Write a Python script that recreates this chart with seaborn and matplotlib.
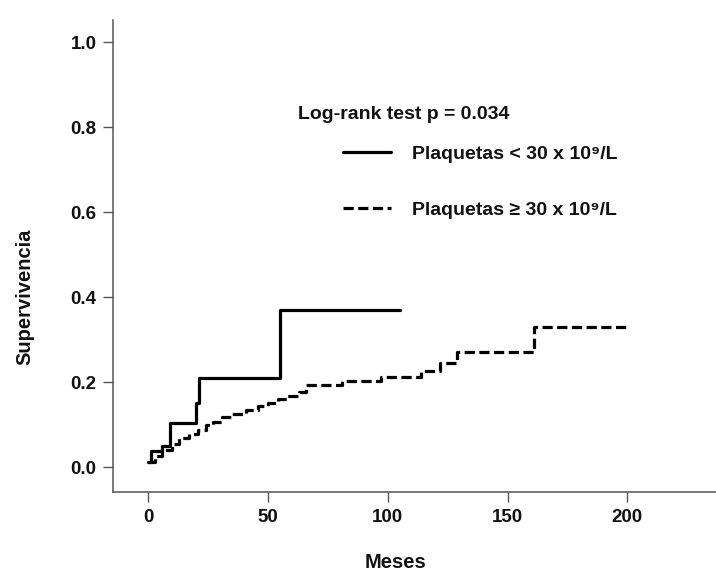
import matplotlib
matplotlib.use("Agg")
import matplotlib.pyplot as plt
import seaborn as sns
import pandas as pd
from matplotlib.lines import Line2D

# ---- data ----
low_time = [0, 1, 6, 9, 20, 21.4, 55, 105]
low_value = [0.012, 0.038, 0.05, 0.103, 0.15, 0.209, 0.369, 0.369]

high_time = [0, 3, 6, 10, 13, 17, 21, 24, 27, 31, 35, 41, 46, 50, 54, 58,
             63, 66, 81, 97, 114, 122, 129, 161, 200]
high_value = [0.012, 0.025, 0.04, 0.055, 0.068, 0.078, 0.087, 0.098, 0.107,
              0.117, 0.125, 0.134, 0.143, 0.150, 0.160, 0.168, 0.177, 0.193,
              0.203, 0.213, 0.227, 0.244, 0.271, 0.330, 0.330]

x_ticks = [0, 50, 100, 150, 200]
y_ticks = [0.0, 0.2, 0.4, 0.6, 0.8, 1.0]
label_low = "Plaquetas < 30 x 10⁹/L"
label_high = "Plaquetas ≥ 30 x 10⁹/L"
annotation = "Log-rank test p = 0.034"
x_label = "Meses"
y_label = "Supervivencia"

sns.set_style("ticks")
plt.rcParams['font.family'] = ['Liberation Sans', 'DejaVu Sans']
plt.rcParams['font.weight'] = 'bold'

df_low = pd.DataFrame({"t": low_time, "s": low_value})
df_high = pd.DataFrame({"t": high_time, "s": high_value})

fig = plt.figure(figsize=(7.16, 5.71), dpi=100)
ax = fig.add_axes([0.158, 0.138, 0.842, 0.827])

dash_style = (0, (3.2, 1.4))
sns.lineplot(data=df_low, x="t", y="s", ax=ax, color="black", linewidth=2.3,
             drawstyle="steps-post", legend=False)
sns.lineplot(data=df_high, x="t", y="s", ax=ax, color="black", linewidth=2.3,
             drawstyle="steps-post", linestyle=dash_style, legend=False)

ax.set_xlim(-14.6, 237)
ax.set_ylim(-0.059, 1.052)
ax.set_xticks(x_ticks)
ax.set_xticklabels([str(v) for v in x_ticks])
ax.set_yticks(y_ticks)
ax.set_yticklabels([f"{v:.1f}" for v in y_ticks])

for s in ["top", "right"]:
    ax.spines[s].set_visible(False)
for s in ["left", "bottom"]:
    ax.spines[s].set_color("#555555")
    ax.spines[s].set_linewidth(1.1)
ax.tick_params(axis="both", length=7, width=1.0, color="#555555",
               labelsize=13.5, pad=5, labelcolor="#111111")
for lab in ax.get_xticklabels() + ax.get_yticklabels():
    lab.set_fontweight("bold")

ax.set_xlabel(x_label, fontsize=14.5, fontweight="bold", color="#111111")
ax.set_ylabel(y_label, fontsize=14.5, fontweight="bold", color="#111111")
ax.xaxis.set_label_coords(0.469, -0.129)
ax.yaxis.set_label_coords(-0.131, 0.413)

fig.text(298 / 716, 1 - 115 / 571, annotation, fontsize=14, fontweight="bold",
         ha="left", va="center", color="#111111")

handles = [Line2D([], [], color="black", linewidth=2.3),
           Line2D([], [], color="black", linewidth=2.3, linestyle=dash_style)]
leg = ax.legend(handles, [label_low, label_high], loc="upper left",
                bbox_to_anchor=(343 / 716, 1 - 145 / 571),
                bbox_transform=fig.transFigure, frameon=False,
                borderpad=0, borderaxespad=0, handlelength=2.45,
                handletextpad=1.1, labelspacing=2.0,
                prop={"size": 14, "weight": "bold"})
for t in leg.get_texts():
    t.set_color("#111111")

fig.savefig("out.png", dpi=100, facecolor="white")
